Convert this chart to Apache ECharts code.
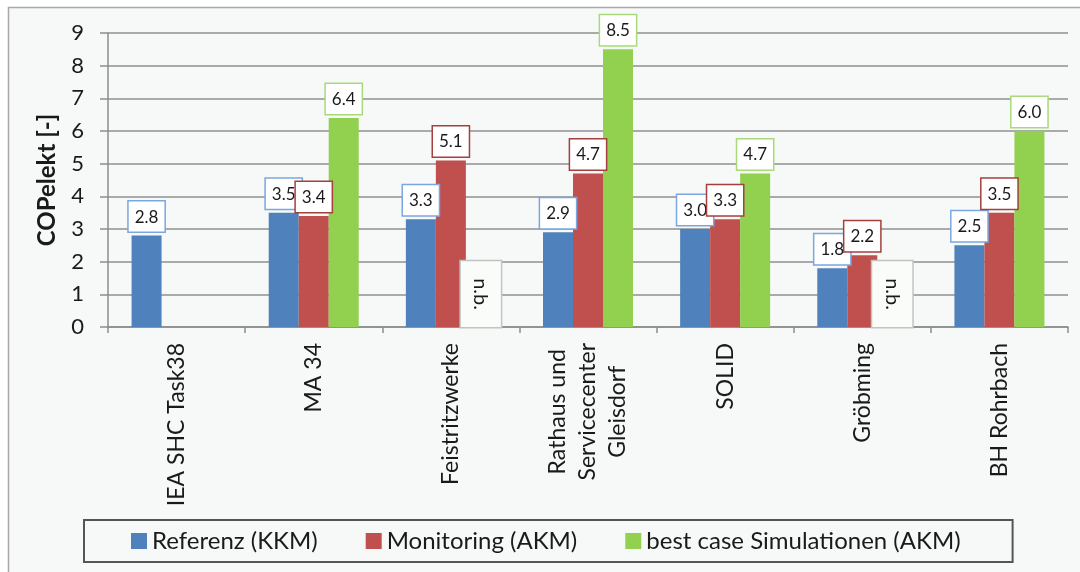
<!DOCTYPE html>
<html>
<head>
<meta charset="utf-8">
<script src="https://cdn.jsdelivr.net/npm/echarts@6/dist/echarts.min.js"></script>
<style>
  html, body { margin: 0; padding: 0; background: #fff; }
  #chart { width: 1080px; height: 572px; }
</style>
</head>
<body>
<div id="chart"></div>
<script>
const categories = ['IEA SHC Task38', 'MA 34', 'Feistritzwerke', 'Rathaus und\nServicecenter\nGleisdorf', 'SOLID', 'Gröbming', 'BH Rohrbach']
const referenz = [2.8, 3.5, 3.3, 2.9, 3.0, 1.8, 2.5]
const monitoring = [null, 3.4, 5.1, 4.7, 3.3, 2.2, 3.5]
const bestCase = [null, 6.4, null, 8.5, 4.7, null, 6.0]
// true = "n.b." (nicht bekannt) for the simulation series
const bestCaseNb = [false, false, true, false, false, true, false]
const seriesNames = ['Referenz (KKM)', 'Monitoring (AKM)', 'best case Simulationen (AKM)']

const font = 'Lato'
const colors = ['#4f81bd', '#c0504d', '#92d050']
const labelBorders = ['#7aa7e0', '#a3403d', '#a9d97a']

const chart = echarts.init(document.getElementById('chart'), null, { renderer: 'canvas' })

const valueLabel = (i) => ({
  show: true,
  position: 'top',
  distance: 4,
  formatter: (p) => p.value.toFixed(1),
  fontFamily: font,
  fontSize: 17,
  color: '#1a1a1a',
  backgroundColor: '#fff',
  borderColor: labelBorders[i],
  borderWidth: 1.5,
  padding: [7, 6, 6, 6]
})

const nbLabel = {
  show: true,
  position: 'insideBottom',
  distance: 0,
  rotate: -90,
  align: 'right',
  verticalAlign: 'middle',
  formatter: 'n.b.',
  fontFamily: font,
  fontSize: 20,
  lineHeight: 24,
  color: '#1a1a1a',
  backgroundColor: '#fafcfa',
  borderColor: '#c3c3c3',
  borderWidth: 1.5,
  padding: [8, 17, 8, 17]
}

const bestCaseData = bestCase.map((v, i) => bestCaseNb[i] ? { value: 0, label: nbLabel } : v)

const catLabel = (val) => {
  if (val.indexOf('\n') < 0) return val
  return val.split('\n').map(s => '{c|' + s + '}').join('\n')
}

const option = {
  backgroundColor: '#fff',
  animation: false,
  graphic: [{
    type: 'rect',
    z: -100,
    silent: true,
    shape: { x: 8.5, y: 7.5, width: 1200, height: 700 },
    style: { fill: '#f6f9f7', stroke: '#a8a8a8', lineWidth: 1.5 }
  }],
  legend: {
    left: 84,
    top: 520,
    padding: [9, 52, 9, 47],
    itemGap: 48,
    itemWidth: 16,
    itemHeight: 16,
    icon: 'rect',
    borderColor: '#555',
    borderWidth: 2,
    textStyle: { fontFamily: font, fontSize: 24, color: '#1a1a1a' },
    data: seriesNames
  },
  grid: { left: 108, right: 12, top: 33, bottom: 245 },
  xAxis: {
    type: 'category',
    data: categories,
    axisLine: { lineStyle: { color: '#8c8c8c', width: 1.5 } },
    axisTick: { show: true, length: 6, lineStyle: { color: '#8c8c8c', width: 1.5 } },
    axisLabel: {
      rotate: 90,
      margin: 16,
      interval: 0,
      fontFamily: font,
      fontSize: 23,
      lineHeight: 30,
      color: '#1a1a1a',
      formatter: catLabel,
      rich: { c: { align: 'center', fontFamily: font, fontSize: 23, lineHeight: 30, color: '#1a1a1a' } }
    }
  },
  yAxis: {
    type: 'value',
    min: 0,
    max: 9,
    interval: 1,
    name: 'COPelekt [-]',
    nameLocation: 'middle',
    nameGap: 49,
    nameTextStyle: { fontFamily: font, fontSize: 24, fontWeight: 'bold', color: '#1a1a1a' },
    axisLine: { show: true, lineStyle: { color: '#8c8c8c', width: 1.5 } },
    axisTick: { show: true, length: 8, lineStyle: { color: '#8c8c8c', width: 1.5 } },
    axisLabel: { margin: 24, fontFamily: font, fontSize: 22, color: '#1a1a1a' },
    splitLine: { lineStyle: { color: '#8f8f8f', width: 1.5 } }
  },
  series: [
    { name: seriesNames[0], type: 'bar', barWidth: 30, barGap: '0%', data: referenz, itemStyle: { color: colors[0] }, label: valueLabel(0) },
    { name: seriesNames[1], type: 'bar', barWidth: 30, barGap: '0%', data: monitoring, itemStyle: { color: colors[1] }, label: valueLabel(1) },
    { name: seriesNames[2], type: 'bar', barWidth: 30, barGap: '0%', data: bestCaseData, itemStyle: { color: colors[2] }, label: valueLabel(2) }
  ]
}

chart.setOption(option)
</script>
</body>
</html>
